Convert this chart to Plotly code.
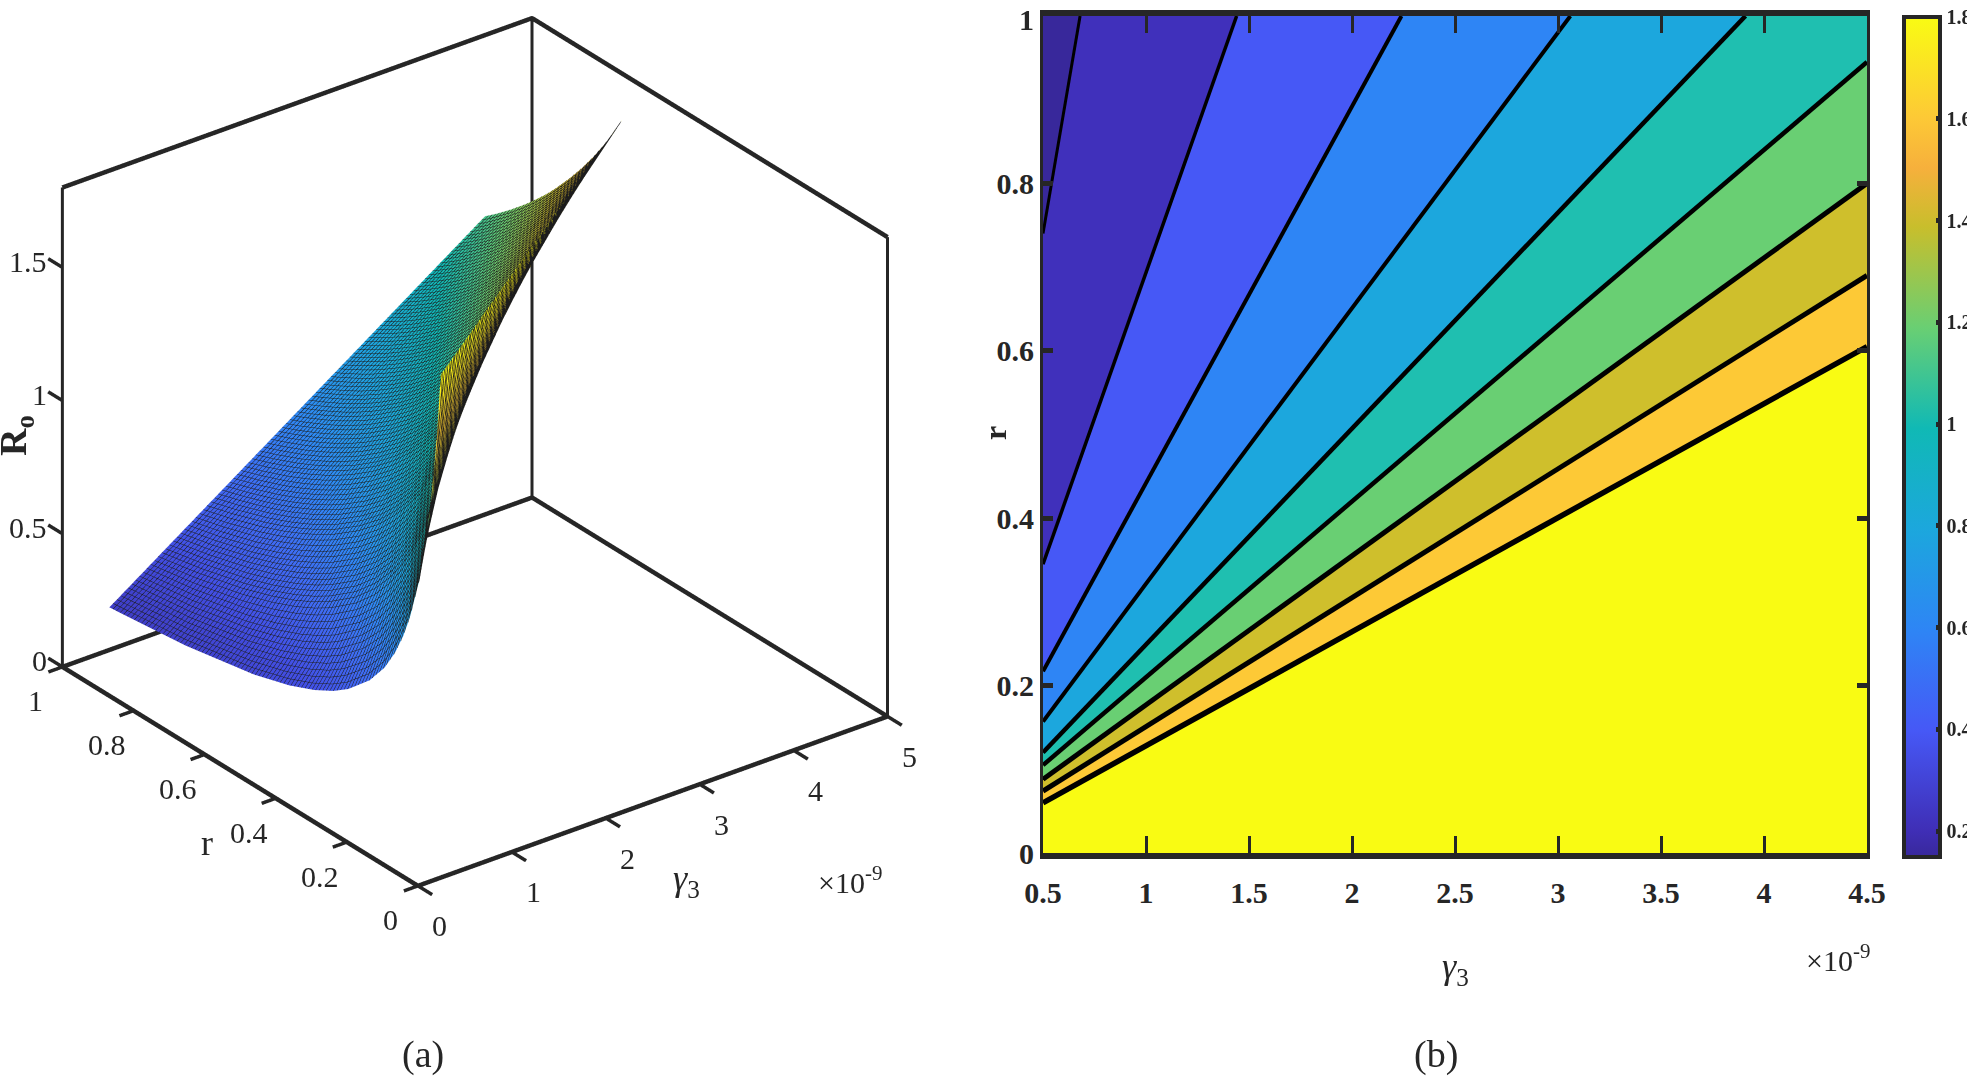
import plotly.graph_objects as go

W, H = 1967, 1079
INK = "#262626"
SERIF = "Liberation Serif"

# ---- (a) surface, values ----
gamma_cols = [0.5, 1.0, 1.5, 2.0, 2.5, 3.0, 3.5, 4.0, 4.5]
r_table = [
    [1, 1, 1, 1, 1, 1, 1, 1, 1],
    [.785, .888, .928, .949, .963, .972, .979, .984, .987],
    [.594, .759, .837, .882, .912, .933, .948, .96, .969],
    [.494, .678, .774, .833, .873, .902, .924, .941, .955],
    [.423, .612, .72, .789, .838, .874, .901, .923, .941],
    [.369, .558, .673, .75, .805, .847, .88, .906, .927],
    [.328, .513, .632, .714, .775, .822, .859, .889, .914],
    [.268, .441, .563, .652, .721, .776, .82, .857, .888],
    [.226, .387, .507, .6, .674, .735, .785, .828, .864],
    [.196, .345, .462, .556, .633, .698, .753, .8, .841],
    [.173, .311, .424, .517, .596, .664, .723, .774, .819],
    [.155, .283, .391, .484, .564, .634, .695, .75, .799],
    [.128, .24, .34, .429, .508, .581, .646, .706, .761],
    [.109, .208, .3, .385, .463, .536, .603, .667, .726],
    [.095, .184, .269, .349, .425, .497, .566, .632, .694],
    [.084, .165, .243, .319, .393, .464, .533, .6, .665],
    [.075, .149, .222, .294, .365, .435, .504, .571, .638],
    [.068, .136, .205, .273, .341, .409, .477, .545, .614],
]
Ro_table = [
    [.16, .28, .4, .52, .64, .76, .88, 1.0, 1.12],
    [.193, .31, .428, .546, .663, .781, .898, 1.016, 1.134],
    [.242, .356, .47, .584, .698, .812, .926, 1.04, 1.154],
    [.283, .394, .505, .616, .727, .838, .949, 1.06, 1.171],
    [.324, .432, .54, .648, .756, .864, .972, 1.08, 1.188],
    [.365, .47, .575, .68, .785, .89, .995, 1.1, 1.205],
    [.406, .508, .61, .712, .814, .916, 1.018, 1.12, 1.222],
    [.488, .584, .68, .776, .872, .968, 1.064, 1.16, 1.256],
    [.57, .66, .75, .84, .93, 1.02, 1.11, 1.2, 1.29],
    [.652, .736, .82, .904, .988, 1.072, 1.156, 1.24, 1.324],
    [.734, .812, .89, .968, 1.046, 1.124, 1.202, 1.28, 1.358],
    [.816, .888, .96, 1.032, 1.104, 1.176, 1.248, 1.32, 1.392],
    [.98, 1.04, 1.1, 1.16, 1.22, 1.28, 1.34, 1.4, 1.46],
    [1.144, 1.192, 1.24, 1.288, 1.336, 1.384, 1.432, 1.48, 1.528],
    [1.308, 1.344, 1.38, 1.416, 1.452, 1.488, 1.524, 1.56, 1.596],
    [1.472, 1.496, 1.52, 1.544, 1.568, 1.592, 1.616, 1.64, 1.664],
    [1.636, 1.648, 1.66, 1.672, 1.684, 1.696, 1.708, 1.72, 1.732],
    [1.8, 1.8, 1.8, 1.8, 1.8, 1.8, 1.8, 1.8, 1.8],
]
gamma_ticks3d = [0, 1, 2, 3, 4, 5]
gamma_text3d = ["0", "1", "2", "3", "4", "5"]
r_ticks3d = [0, 0.2, 0.4, 0.6, 0.8, 1]
r_text3d = ["0", "0.2", "0.4", "0.6", "0.8", "1"]
z_ticks3d = [0, 0.5, 1, 1.5]
z_text3d = ["0", "0.5", "1", "1.5"]
gamma_lim = [0, 5]
r_lim = [0, 1]
z_lim = [0, 1.8]
gamma_scene = [-0.5, 5.5]
r_scene = [-0.1, 1.1]
z_scene = [-0.18, 1.98]

# ---- (b) contour lines ----
line_start_r = [0.74, 0.345, 0.217, 0.157, 0.12, 0.105, 0.088, 0.074, 0.06]
line_end_gamma = [0.68, 1.44, 2.24, 3.06, 3.91, 4.5, 4.5, 4.5, 4.5]
line_end_r = [1, 1, 1, 1, 1, 0.945, 0.80, 0.69, 0.605]
line_widths = [3, 3.5, 4, 4, 4.5, 4.5, 5, 5, 5.5]
band_colors = ["#38289b", "#4030bb", "#4658f6", "#2e85f5", "#1ca7dd",
               "#1fbfb0", "#69cf73", "#cfbf2c", "#fdc936", "#f9fb13"]
x_ticks = [0.5, 1, 1.5, 2, 2.5, 3, 3.5, 4, 4.5]
x_ticktext = ["0.5", "1", "1.5", "2", "2.5", "3", "3.5", "4", "4.5"]
y_ticks = [0, 0.2, 0.4, 0.6, 0.8, 1]
y_ticktext = ["0", "0.2", "0.4", "0.6", "0.8", ""]
cbar_ticks = [0.2, 0.4, 0.6, 0.8, 1, 1.2, 1.4, 1.6, 1.8]
cbar_text = ["0.2", "0.4", "0.6", "0.8", "1", "1.2", "1.4", "1.6", "1.8"]
c_min, c_max = 0.149, 1.8

parula = [[0.0, "#38289b"], [0.03, "#3f2eb5"], [0.15, "#4658f6"], [0.27, "#2e85f5"],
          [0.39, "#1ca7dd"], [0.51, "#10b9b5"], [0.63, "#69cf73"], [0.75, "#c8be2c"],
          [0.82, "#f6b03c"], [0.88, "#fdc936"], [1.0, "#f9fb13"]]
surface_scale = [[0.0, "#3f3cc4"], [0.1, "#4250e6"], [0.2, "#3f6cf5"], [0.3, "#2e8af5"],
                 [0.42, "#1ca7dd"], [0.52, "#10b9b5"], [0.63, "#69cf73"], [0.75, "#c8be2c"],
                 [0.85, "#f0c030"], [1.0, "#f9fb13"]]

fig = go.Figure()

# right panel bands (painter's order)
x0, x1 = x_ticks[0], x_ticks[-1]
fig.add_trace(go.Scatter(x=[x0, x1, x1, x0], y=[0, 0, 1, 1], fill="toself", mode="lines",
                         fillcolor=band_colors[0], line=dict(width=0), hoverinfo="skip",
                         showlegend=False))
for i, (rs, ge, re_) in enumerate(zip(line_start_r, line_end_gamma, line_end_r)):
    xs = [x0, ge] + ([x1] if ge < x1 else []) + [x1, x0]
    ys = [rs, re_] + ([1] if ge < x1 else []) + [0, 0]
    fig.add_trace(go.Scatter(x=xs, y=ys, fill="toself", mode="lines",
                             fillcolor=band_colors[i + 1], line=dict(width=0),
                             hoverinfo="skip", showlegend=False))
for rs, ge, re_, w in zip(line_start_r, line_end_gamma, line_end_r, line_widths):
    fig.add_trace(go.Scatter(x=[x0, ge], y=[rs, re_], mode="lines",
                             line=dict(color="black", width=w), hoverinfo="skip",
                             showlegend=False))

# colour bar
fig.add_trace(go.Scatter(
    x=[None, None], y=[None, None], mode="markers", hoverinfo="skip", showlegend=False,
    marker=dict(color=[c_min, c_max], cmin=c_min, cmax=c_max, colorscale=parula, showscale=True,
                colorbar=dict(
                    x=1904 / W, xanchor="left", y=1 - 857 / H, yanchor="bottom",
                    lenmode="pixels", len=840, thicknessmode="pixels", thickness=36,
                    outlinecolor=INK, outlinewidth=4, ticks="inside", ticklen=6, tickwidth=5,
                    tickcolor=INK, tickvals=cbar_ticks, ticktext=cbar_text,
                    tickfont=dict(family=SERIF, size=20, color=INK, weight=700), xpad=0, ypad=0,
                )),
))

# left panel surface
fig.add_trace(go.Surface(
    x=[gamma_cols for _ in r_table], y=r_table, z=Ro_table,
    cmin=c_min, cmax=c_max, colorscale=surface_scale, showscale=False, hoverinfo="skip",
    lighting=dict(ambient=1, diffuse=0, specular=0, fresnel=0, roughness=1),
    contours=dict(
        x=dict(show=True, start=0.5, end=4.5, size=0.04, color="#1c1c1c", width=3, highlight=False),
        y=dict(show=True, start=0.0, end=1.0, size=0.01, color="#1c1c1c", width=3, highlight=False),
        z=dict(show=False, highlight=False),
    ),
))

# frame and tick marks of the 3-D box
g0, g1 = gamma_lim
r0, r1 = r_lim
z0, z1 = z_lim
frame_edges = [
    ([g0, g1, g1], [r1, r1, r0], [z1, z1, z1], 9),
    ([g0, g1, g1], [r1, r1, r0], [z0, z0, z0], 9),
    ([g0, g0, g1], [r1, r0, r0], [z0, z0, z0], 9),
    ([g0, g0], [r1, r1], [z0, z1], 6),
    ([g1, g1], [r1, r1], [z0, z1], 6),
    ([g1, g1], [r0, r0], [z0, z1], 6),
]
for fx, fy, fz, w in frame_edges:
    fig.add_trace(go.Scatter3d(x=fx, y=fy, z=fz, mode="lines",
                               line=dict(color=INK, width=w), hoverinfo="skip",
                               showlegend=False))
for t in gamma_ticks3d:
    fig.add_trace(go.Scatter3d(x=[t, t], y=[-0.04, 0], z=[0, 0], mode="lines",
                               line=dict(color=INK, width=7), hoverinfo="skip", showlegend=False))
for t in r_ticks3d:
    fig.add_trace(go.Scatter3d(x=[-0.15, 0], y=[t, t], z=[0, 0], mode="lines",
                               line=dict(color=INK, width=7), hoverinfo="skip", showlegend=False))
for t in z_ticks3d:
    fig.add_trace(go.Scatter3d(x=[0, 0], y=[1, 1.04], z=[t, t], mode="lines",
                               line=dict(color=INK, width=7), hoverinfo="skip", showlegend=False))

axis3d = dict(showgrid=False, showbackground=False, zeroline=False, showspikes=False,
              showline=False, ticks="", showticklabels=False, title=dict(text=""))
font3d = dict(family=SERIF, size=30, color=INK)
scene_notes = []
for v, s in zip(gamma_ticks3d, gamma_text3d):
    scene_notes.append(dict(x=v, y=0, z=0, text=s, showarrow=False, xshift=22, yshift=-40, font=font3d))
for v, s in zip(r_ticks3d, r_text3d):
    scene_notes.append(dict(x=0, y=v, z=0, text=s, showarrow=False, xshift=-27, yshift=-34, font=font3d))
for v, s in zip(z_ticks3d, z_text3d):
    scene_notes.append(dict(x=0, y=1, z=v, text=s, showarrow=False, xanchor="right", xshift=-13, yshift=6, font=font3d))

fig.update_layout(
    width=W, height=H, margin=dict(l=0, r=0, t=0, b=0, autoexpand=False), showlegend=False,
    paper_bgcolor="white", plot_bgcolor="white",
    scene=dict(
        domain=dict(x=[0, 950 / W], y=[1 - 904 / H, 1]),
        aspectmode="manual", aspectratio=dict(x=1.570, y=1.553, z=1.443),
        camera=dict(projection=dict(type="orthographic"),
                    eye=dict(x=-0.564, y=-0.737, z=0.496),
                    center=dict(x=0, y=0, z=0), up=dict(x=0, y=0, z=1)),
        xaxis=dict(axis3d, range=gamma_scene),
        yaxis=dict(axis3d, range=r_scene),
        zaxis=dict(axis3d, range=z_scene),
        annotations=scene_notes,
    ),
    xaxis=dict(domain=[1043 / W, 1867 / W], range=[x0, x1], tickvals=x_ticks, ticktext=x_ticktext,
               ticks="inside", ticklen=17, tickwidth=3, tickcolor=INK, showline=True, linecolor=INK,
               linewidth=6, mirror="ticks", showgrid=False, zeroline=False, ticklabelstandoff=8,
               tickfont=dict(family=SERIF, size=30, color=INK, weight=700)),
    yaxis=dict(domain=[1 - 853 / H, 1 - 16 / H], range=[0, 1], tickvals=y_ticks, ticktext=y_ticktext,
               ticks="inside", ticklen=10, tickwidth=5, tickcolor=INK, showline=True, linecolor=INK,
               linewidth=3, mirror="ticks", showgrid=False, zeroline=False,
               tickfont=dict(family=SERIF, size=30, color=INK, weight=700)),
)


def note(px, py, text, size=30, angle=0, bold=False, family=SERIF, anchor="center"):
    fig.add_annotation(xref="paper", yref="paper", x=px / W, y=1 - py / H, text=f"<b>{text}</b>" if bold else text,
                       showarrow=False, textangle=angle, xanchor=anchor, yanchor="middle",
                       font=dict(family=family, size=size, color=INK))


note(16, 436, "R<sub>o</sub>", 38, -90, True)
note(207, 843, "r", 36)
note(686, 880, "<i>γ</i><sub>3</sub>", 36)
note(850, 880, "×10<sup>-9</sup>", 30)
note(995, 433, "r", 32, -90, True)
note(1455, 968, "<i>γ</i><sub>3</sub>", 36)
note(1838, 958, "×10<sup>-9</sup>", 30)
note(423, 1054, "(a)", 38)
note(1436, 1054, "(b)", 38)
note(1036, 20, "<b>1</b>", 30, anchor="right")

fig.write_html("out.html", config=dict(displayModeBar=False),
               post_script="document.body.style.margin='0';document.documentElement.style.overflow='hidden';window.dispatchEvent(new Event('resize'));")
